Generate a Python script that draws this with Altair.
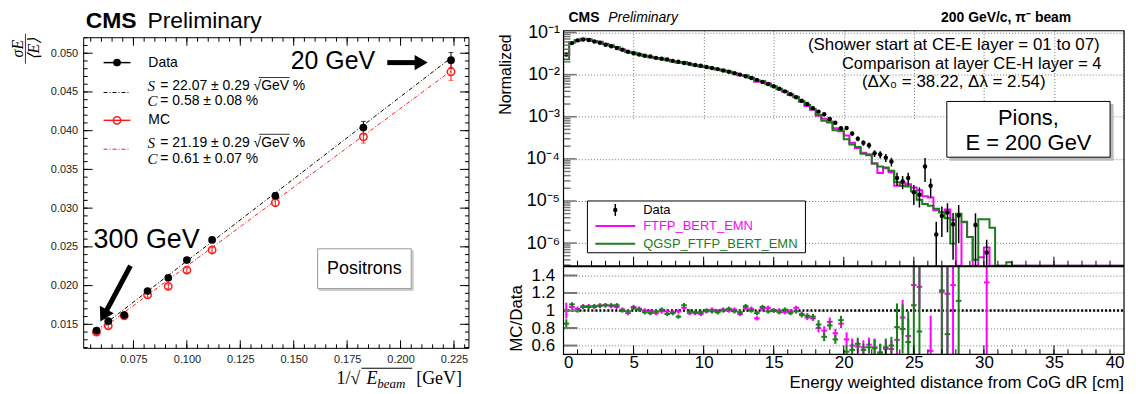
import altair as alt
import pandas as pd

nan = float("nan")
SANS = "Liberation Sans"
SERIF = "Liberation Serif"
MAGENTA = "#ff00ff"
GREEN = "#1b7d1b"
RED = "#ff1a1a"

# ---------------- Left panel: positron energy resolution ----------------
e_beam = [20, 30, 50, 80, 100, 120, 150, 200, 250, 300]
inv_sqrt_e = [0.2236, 0.1826, 0.1414, 0.1118, 0.1000, 0.0913, 0.0816, 0.0707, 0.0632, 0.0577]
res_data = [0.0491, 0.0404, 0.0316, 0.0259, 0.0233, 0.0210, 0.0193, 0.0162, 0.0154, 0.0142]
res_data_err = [0.0010, 0.0008, 0.0004, 0.0003, 0.0002, 0.0002, 0.0002, 0.0002, 0.0002, 0.0002]
res_mc = [0.0476, 0.0392, 0.0307, 0.0246, 0.0220, 0.0199, 0.0188, 0.0161, 0.0148, 0.0140]
res_mc_err = [0.0011, 0.0008, 0.0004, 0.0003, 0.0003, 0.0003, 0.0003, 0.0003, 0.0003, 0.0003]
fit_x = [0.0577, 0.2236]
fit_data = [0.0142, 0.0494]
fit_mc = [0.0139, 0.0477]

lx_major = [0.075, 0.100, 0.125, 0.150, 0.175, 0.200, 0.225]
lx_minor = [round(0.055 + 0.005 * i, 3) for i in range(36)]
ly_major = [0.015, 0.020, 0.025, 0.030, 0.035, 0.040, 0.045, 0.050]
ly_minor = [round(0.012 + 0.001 * i, 3) for i in range(41)]

# ---------------- Right panel: pion shower profile ----------------
bin_width = 0.4
data_vals = [0.030, 0.056, 0.065, 0.068, 0.066, 0.061, 0.057, 0.051, 0.047, 0.043,
             0.039, 0.035, 0.032, 0.030, 0.028, 0.027, 0.025, 0.0238, 0.0228, 0.0212,
             0.0202, 0.0188, 0.0180, 0.0170, 0.0162, 0.0152, 0.0143, 0.0135, 0.0125, 0.0117,
             0.0108, 0.0100, 0.0091, 0.0083, 0.0075, 0.0067, 0.0060, 0.0053, 0.0046, 0.0040,
             0.0034, 0.0029, 0.0024, 0.0020, 0.00160, 0.00132, 0.00115, 0.00088, 0.00072, 0.00053,
             0.00054, 0.00040, 0.00030, 0.00024, 0.00021, 0.000135, 0.000127, 0.000107, 0.000086, 3.5e-5,
             2.9e-5, 3.5e-5, 1.6e-5, 1.4e-5, 6.6e-5, 2.3e-5, 1.6e-6, 4.4e-6, 5.3e-6, 2.8e-6,
             4.5e-6, nan, nan, 2.7e-6, nan, 6e-7]
data_err = [0.0] * 44 + [1.0e-4, 9e-5, 8e-5, 7e-5, 6e-5, 5e-5, 5e-5, 4.5e-5, 4e-5, 3.5e-5,
                         3.5e-5, 2.5e-5, 2.5e-5, 2.3e-5, 2e-5, 1.2e-5, 1.0e-5, 1.2e-5, 8e-6, 7e-6,
                         3.8e-5, 1.1e-5, 1.6e-6, 3.0e-6, 3.5e-6, 2.4e-6, 3.5e-6, nan, nan, 2.4e-6,
                         nan, 6e-7]
qgsp_vals = [0.023, 0.058, 0.064, 0.069, 0.068, 0.063, 0.058, 0.053, 0.049, 0.045,
             0.039, 0.035, 0.033, 0.030, 0.0275, 0.026, 0.0248, 0.024, 0.022, 0.0205,
             0.0190, 0.0198, 0.0178, 0.0167, 0.0159, 0.0152, 0.0142, 0.0132, 0.0125, 0.0119,
             0.0107, 0.0098, 0.0095, 0.0083, 0.0073, 0.0070, 0.0059, 0.0053, 0.0045, 0.0040,
             0.0033, 0.0029, 0.0023, 0.0019, 0.0015, 0.0011, 0.00080, 0.00073, 0.00048, 0.00047,
             0.00029, 0.00022, 0.00019, 0.000132, 0.000122, 7.7e-5, 6.6e-5, 6.2e-5, 5.2e-5, 2.8e-5,
             2.3e-5, 2.2e-5, 1.7e-5, 1.07e-5, 8.5e-6, 7.7e-6, 6.5e-6, 5.4e-6, 3.9e-6, 9.7e-7,
             5.0e-6, 3.2e-6, 1.4e-6, 4e-7, 3.7e-6, 3.7e-6, 2.3e-6, 0, 0, 3.5e-7] + [0.0] * 20
ftfp_vals = [0.029, 0.058, 0.066, 0.071, 0.069, 0.063, 0.060, 0.054, 0.049, 0.045,
             0.0394, 0.034, 0.033, 0.0306, 0.028, 0.0267, 0.0243, 0.0236, 0.0226, 0.0208,
             0.0200, 0.0194, 0.0175, 0.0165, 0.0156, 0.0150, 0.0144, 0.0134, 0.0126, 0.0117,
             0.0109, 0.0096, 0.0094, 0.0085, 0.0068, 0.0068, 0.0062, 0.0053, 0.0046, 0.0039,
             0.0034, 0.0030, 0.0023, 0.0018, 0.00146, 0.00106, 0.00089, 0.00077, 0.00053, 0.00045,
             0.00036, 0.00024, 0.00018, 0.000139, 0.000128, 7.8e-5, 4.6e-5, 6.0e-5, 4.8e-5, 2.3e-5,
             2.7e-5, 2.5e-5, 2.1e-5, 1.8e-5, 1.3e-5, 1.2e-5, 6e-6, 5.3e-6, 6.3e-6, 3.6e-6,
             0, 3.1e-6, 1.4e-6, 0, 4.6e-7, 7.9e-7, 0, 0, 0, 0] + [0.0] * 20
ratio_qgsp = [0.85, 1.07, 1.00, 1.04, 1.04, 1.05, 1.05, 1.06, 1.06, 1.06,
              1.00, 0.99, 1.03, 1.01, 0.98, 0.97, 0.99, 1.01, 0.96, 0.97,
              0.93, 1.06, 0.99, 0.98, 0.98, 1.00, 0.99, 0.98, 1.00, 1.02,
              0.99, 0.98, 1.05, 1.00, 0.97, 1.04, 0.99, 1.00, 0.98, 1.01,
              0.97, 0.99, 0.95, 0.94, 0.93, 0.84, 0.70, 0.83, 0.67, 0.89,
              0.53, 0.55, 0.62, 0.55, 0.58, 0.57, 0.52, 0.58, 0.60, 0.81,
              0.79, 0.64, 1.06, 0.76, nan, nan, nan, 1.23, 0.73, nan,
              1.11, nan, nan, nan, nan, nan]
ratio_qgsp_err = [0.05] + [0.025] * 41 + [0.03, 0.03, 0.03, 0.05, 0.05, 0.05, 0.05, 0.05,
                                          0.07, 0.07, 0.07, 0.07, 0.07, 0.10, 0.10, 0.10, 0.10,
                                          0.27, 0.28, 0.35, 1.5, 1.5, nan, nan, nan, 1.5, 1.5, nan,
                                          1.5, nan, nan, nan, nan, nan]
ratio_ftfp = [1.00, 1.04, 1.02, 1.05, 1.05, 1.04, 1.06, 1.06, 1.05, 1.04,
              1.01, 0.97, 1.04, 1.02, 1.00, 0.99, 0.97, 0.99, 0.99, 0.98,
              0.99, 1.03, 0.97, 0.97, 0.96, 0.99, 1.01, 0.99, 1.01, 1.00,
              1.01, 0.96, 1.03, 1.02, 0.91, 1.02, 1.03, 1.00, 1.00, 0.98,
              0.99, 1.03, 0.96, 0.92, 0.91, 0.80, 0.77, 0.87, 0.74, 0.85,
              0.67, 0.60, 0.59, 0.58, 0.61, 0.58, 0.52, 0.56, 0.56, 0.665,
              0.92, 0.71, 1.29, 1.27, nan, 0.54, nan, 1.21, 1.19, 1.29,
              nan, nan, nan, nan, nan, 1.32]
ratio_ftfp_err = [0.09] + [0.025] * 41 + [0.03, 0.03, 0.03, 0.05, 0.05, 0.05, 0.05, 0.05,
                                          0.08, 0.08, 0.08, 0.08, 0.08, 0.10, 0.10, 0.10, 0.10,
                                          0.2, 0.2, 0.2, 0.3, 0.25, nan, 0.4, nan, 1.5, 1.5, 1.5,
                                          nan, nan, nan, nan, nan, 1.5]

log_major = [1e-6, 1e-5, 1e-4, 1e-3, 1e-2, 1e-1]
log_minor = [m * d for d in [1e-7, 1e-6, 1e-5, 1e-4, 1e-3, 1e-2] for m in range(2, 10)]
ratio_ticks = [0.6, 0.8, 1.0, 1.2, 1.4]
rx_labels = [0, 5, 10, 15, 20, 25, 30, 35, 40]
rx_major = [5, 10, 15, 20, 25, 30, 35]
rx_minor = list(range(1, 40))

# ---------------- layout constants (pixels) ----------------
LW, LH = 387, 325
L_TOP, L_BOT = 7, 319
RW, RH = 563, 325
U_BOT = 236
SPACING = 95
TINY = 1e-12

ONE = pd.DataFrame({"a": [0]})


def txt(t, x, y, size, color="black", font=SANS, weight="normal", style="normal",
        align="left", baseline="middle", angle=0):
    return alt.Chart(ONE).mark_text(text=t, fontSize=size, color=color, font=font,
                                    fontWeight=weight, fontStyle=style, align=align,
                                    baseline=baseline, angle=angle).encode(
        x=alt.value(x), y=alt.value(y))


def seg(x0, y0, x1, y1, color="black", width=1.0, dash=None):
    kw = dict(color=color, strokeWidth=width)
    if dash:
        kw["strokeDash"] = dash
    return alt.Chart(ONE).mark_rule(**kw).encode(
        x=alt.value(x0), y=alt.value(y0), x2=alt.value(x1), y2=alt.value(y1))


def box(x0, y0, x1, y1, stroke="black", fill="white", width=1.0, fill_opacity=1.0):
    return alt.Chart(ONE).mark_rect(fill=fill, fillOpacity=fill_opacity, stroke=stroke,
                                    strokeWidth=width).encode(
        x=alt.value(x0), x2=alt.value(x1), y=alt.value(y0), y2=alt.value(y1))


def sym(x, y, shape, size, color, filled=True, angle=0, sw=1.5):
    return alt.Chart(ONE).mark_point(shape=shape, size=size, color=color, filled=filled,
                                     opacity=1, angle=angle, strokeWidth=sw).encode(
        x=alt.value(x), y=alt.value(y))


def xticks(values, scale, y0, y1, color="black", width=1.0):
    return alt.Chart(pd.DataFrame({"v": values})).mark_rule(color=color, strokeWidth=width).encode(
        x=alt.X("v:Q", scale=scale, axis=None), y=alt.value(y0), y2=alt.value(y1))


def yticks(values, scale, x0, x1, color="black", width=1.0):
    return alt.Chart(pd.DataFrame({"v": values})).mark_rule(color=color, strokeWidth=width).encode(
        y=alt.Y("v:Q", scale=scale, axis=None), x=alt.value(x0), x2=alt.value(x1))


# ======================= LEFT CHART =======================
lx = alt.Scale(domain=[0.0517, 0.232], nice=False, zero=False)
ly = alt.Scale(domain=[0.0119, 0.0520], range=[L_BOT, L_TOP], nice=False, zero=False)

ldf = pd.DataFrame({"x": inv_sqrt_e, "E": e_beam, "data": res_data, "mc": res_mc})
ldf["dlo"] = [v - e for v, e in zip(res_data, res_data_err)]
ldf["dhi"] = [v + e for v, e in zip(res_data, res_data_err)]
ldf["mlo"] = [v - e for v, e in zip(res_mc, res_mc_err)]
ldf["mhi"] = [v + e for v, e in zip(res_mc, res_mc_err)]
fdf = pd.DataFrame({"x": fit_x, "fd": fit_data, "fm": fit_mc})

xnoax = alt.X("x:Q", scale=lx, axis=None)
anchor = alt.Chart(ONE).mark_point(size=1, opacity=0, filled=True).encode(
    x=alt.value(-75), y=alt.value(-21))

fit_d = alt.Chart(fdf).mark_line(color="black", strokeWidth=1, strokeDash=[4, 2, 1, 2]).encode(
    x=xnoax, y=alt.Y("fd:Q", scale=ly, axis=None))
fit_m = alt.Chart(fdf).mark_line(color=RED, strokeWidth=1, strokeDash=[4, 2, 1, 2]).encode(
    x=xnoax, y=alt.Y("fm:Q", scale=ly, axis=None))
err_d = alt.Chart(ldf).mark_rule(color="black", strokeWidth=1).encode(
    x=xnoax, y=alt.Y("dlo:Q", scale=ly, axis=None), y2="dhi:Q")
err_m = alt.Chart(ldf).mark_rule(color=RED, strokeWidth=1).encode(
    x=xnoax, y=alt.Y("mlo:Q", scale=ly, axis=None), y2="mhi:Q")
cap_d = [alt.Chart(ldf).mark_tick(color="black", size=5, thickness=1, orient="horizontal").encode(
    x=xnoax, y=alt.Y(f"{c}:Q", scale=ly, axis=None)) for c in ["dlo", "dhi"]]
cap_m = [alt.Chart(ldf).mark_tick(color=RED, size=5, thickness=1, orient="horizontal").encode(
    x=xnoax, y=alt.Y(f"{c}:Q", scale=ly, axis=None)) for c in ["mlo", "mhi"]]
pts_m = alt.Chart(ldf).mark_point(shape="circle", filled=False, color=RED, size=55,
                                  strokeWidth=1.5, opacity=1).encode(
    x=xnoax, y=alt.Y("mc:Q", scale=ly, axis=None))
pts_d = alt.Chart(ldf).mark_circle(color="black", size=60, opacity=1).encode(
    x=alt.X("x:Q", scale=lx, axis=alt.Axis(values=lx_major, format=".3f", ticks=False, domain=False,
                                           grid=False, labelFontSize=11, labelPadding=5,
                                           orient="bottom", offset=L_BOT - LH, title=None,
                                           labelFont=SANS, labelColor="#222")),
    y=alt.Y("data:Q", scale=ly, axis=alt.Axis(values=ly_major, format=".3f", ticks=False, domain=False,
                                              grid=False, labelFontSize=11, labelPadding=6,
                                              orient="left", title=None, labelFont=SANS,
                                              labelColor="#222")))

left_ticks = [
    xticks(lx_major, lx, L_BOT, L_BOT - 8), xticks(lx_minor, lx, L_BOT, L_BOT - 4),
    xticks(lx_major, lx, L_TOP, L_TOP + 8), xticks(lx_minor, lx, L_TOP, L_TOP + 4),
    yticks(ly_major, ly, 0, 9), yticks(ly_minor, ly, 0, 4),
    yticks(ly_major, ly, LW, LW - 9), yticks(ly_minor, ly, LW, LW - 4),
]
left_frame = box(0, L_TOP, LW, L_BOT, stroke="black", fill="white", width=1, fill_opacity=0)

left_legend = [
    seg(20, 32, 47, 32, "black", 1.5), sym(33.5, 32, "circle", 60, "black"),
    txt("Data", 65, 32, 14),
    seg(20, 62, 47, 62, "black", 1, [4, 2, 1, 2]),
    txt("S", 64, 56, 15, font=SERIF, style="italic"),
    txt("= 22.07 \u00b1 0.29 \u221aGeV %", 77, 56, 14),
    seg(176, 47, 207, 47, "black", 0.8),
    txt("C", 64, 71, 15, font=SERIF, style="italic"),
    txt("= 0.58 \u00b1 0.08 %", 77, 71, 14),
    seg(20, 90, 47, 90, RED, 1.5), sym(33.5, 90, "circle", 55, RED, filled=False),
    txt("MC", 65, 90, 14),
    seg(20, 119, 47, 119, RED, 1, [4, 2, 1, 2]),
    txt("S", 64, 113, 15, font=SERIF, style="italic"),
    txt("= 21.19 \u00b1 0.29 \u221aGeV %", 77, 113, 14),
    seg(176, 104, 207, 104, "black", 0.8),
    txt("C", 64, 129, 15, font=SERIF, style="italic"),
    txt("= 0.61 \u00b1 0.07 %", 77, 129, 14),
]
left_annot = [
    txt("CMS", 2, -3, 23, weight="bold", baseline="alphabetic"),
    txt("Preliminary", 64, -3, 23, baseline="alphabetic"),
    txt("20 GeV", 208, 38, 25, baseline="alphabetic"),
    seg(305, 32, 334, 32, "black", 5), sym(339, 32, "triangle-right", 230, "black"),
    txt("300 GeV", 10, 218, 27, baseline="alphabetic"),
    seg(47, 236, 23, 281, "black", 5), sym(20, 286, "triangle-up", 250, "black", angle=208),
    box(237, 221, 331, 261, stroke="#cccccc", fill="#cccccc", width=1),
    box(235, 219, 329, 259, stroke="#999999", fill="white", width=1),
    txt("Positrons", 282, 239, 18, align="center"),
    # y title (rotated fraction sigma_E / <E>)
    txt("\u03c3E", -66, 18, 16, font=SERIF, style="italic", align="center", angle=270),
    seg(-58.5, 3, -58.5, 33, "black", 0.8),
    txt("\u27e8E\u27e9", -50, 18, 16, font=SERIF, style="italic", align="center", angle=270),
    # x title 1/sqrt(E_beam) [GeV]
    txt("1/\u221a", 254, 355, 18, font=SERIF, baseline="alphabetic"),
    seg(279, 339, 330, 339, "black", 1),
    txt("E", 284, 355, 18, font=SERIF, style="italic", baseline="alphabetic"),
    txt("beam", 295, 359, 13, font=SERIF, style="italic", baseline="alphabetic"),
    txt("[GeV]", 334, 355, 18, font=SERIF, baseline="alphabetic"),
]

left = alt.layer(anchor, fit_d, fit_m, err_d, err_m, *cap_d, *cap_m, pts_m, pts_d,
                 *left_ticks, left_frame, *left_legend, *left_annot).properties(
    width=LW, height=LH).resolve_axis(x="independent", y="independent")

# ======================= RIGHT CHART =======================
xr = alt.Scale(domain=[0, 40], nice=False, zero=False)
yu = alt.Scale(type="log", domain=[2.9e-7, 0.11], range=[U_BOT, 0], clamp=True, nice=False)
yl = alt.Scale(domain=[0.5, 1.5], range=[RH, U_BOT + 1], clamp=True, nice=False, zero=False)

n_mc = len(qgsp_vals)
edges = [bin_width * k for k in range(n_mc)] + [bin_width * n_mc]
hist = pd.DataFrame({
    "e": edges,
    "ftfp": [v if v > 0 else TINY for v in ftfp_vals] + [ftfp_vals[-1] if ftfp_vals[-1] > 0 else TINY],
    "qgsp": [v if v > 0 else TINY for v in qgsp_vals] + [qgsp_vals[-1] if qgsp_vals[-1] > 0 else TINY],
})

n_pts = len(data_vals)
centres = [bin_width * (k + 0.5) for k in range(n_pts)]
pts = pd.DataFrame({
    "c": centres,
    "x0": [c - bin_width / 2 for c in centres],
    "x1": [c + bin_width / 2 for c in centres],
    "data": data_vals,
    "dlo": [max(v - e, TINY) for v, e in zip(data_vals, data_err)],
    "dhi": [v + e for v, e in zip(data_vals, data_err)],
    "rg": ratio_qgsp,
    "glo": [r - e for r, e in zip(ratio_qgsp, ratio_qgsp_err)],
    "ghi": [r + e for r, e in zip(ratio_qgsp, ratio_qgsp_err)],
    "rm": ratio_ftfp,
    "mlo": [r - e for r, e in zip(ratio_ftfp, ratio_ftfp_err)],
    "mhi": [r + e for r, e in zip(ratio_ftfp, ratio_ftfp_err)],
})

xrn = alt.X("c:Q", scale=xr, axis=None)
grid_kw = dict(ticks=False, domain=False, grid=True, gridDash=[1, 2], gridColor="#777777",
               gridWidth=1, title=None, labelFont=SANS, labelColor="black")

unity = alt.Chart(pd.DataFrame({"r": [1.0]})).mark_rule(color="black", strokeWidth=2.5,
                                                         strokeDash=[2, 2]).encode(
    y=alt.Y("r:Q", scale=yl, axis=None), x=alt.value(0), x2=alt.value(RW))

step_m = alt.Chart(hist).mark_line(interpolate="step-after", color=MAGENTA, strokeWidth=2).encode(
    x=alt.X("e:Q", scale=xr, axis=None), y=alt.Y("ftfp:Q", scale=yu, axis=None))
step_g = alt.Chart(hist).mark_line(interpolate="step-after", color=GREEN, strokeWidth=2).encode(
    x=alt.X("e:Q", scale=xr, axis=None), y=alt.Y("qgsp:Q", scale=yu, axis=None))
derr = alt.Chart(pts).mark_rule(color="black", strokeWidth=1.5).encode(
    x=xrn, y=alt.Y("dlo:Q", scale=yu, axis=None), y2="dhi:Q")
dpts = alt.Chart(pts).mark_circle(color="black", size=20, opacity=1).encode(
    x=xrn,
    y=alt.Y("data:Q", scale=yu, axis=alt.Axis(
        values=log_major, orient="left", labelFontSize=18, labelPadding=4,
        labelExpr=("datum.value > 0.05 ? '10\u207b\u00b9' : datum.value > 0.005 ? '10\u207b\u00b2' : "
                   "datum.value > 0.0005 ? '10\u207b\u00b3' : datum.value > 0.00005 ? '10\u207b\u2074' : "
                   "datum.value > 0.000005 ? '10\u207b\u2075' : '10\u207b\u2076'"),
        **grid_kw)))

m_v = alt.Chart(pts).mark_rule(color=MAGENTA, strokeWidth=2).encode(
    x=xrn, y=alt.Y("mlo:Q", scale=yl, axis=None), y2="mhi:Q")
m_h = alt.Chart(pts).mark_rule(color=MAGENTA, strokeWidth=2).encode(
    x=alt.X("x0:Q", scale=xr, axis=None), x2="x1:Q", y=alt.Y("rm:Q", scale=yl, axis=None))
g_v = alt.Chart(pts).mark_rule(color=GREEN, strokeWidth=2).encode(
    x=xrn, y=alt.Y("glo:Q", scale=yl, axis=None), y2="ghi:Q")
g_h = alt.Chart(pts).mark_rule(color=GREEN, strokeWidth=2).encode(
    x=alt.X("x0:Q", scale=xr, axis=alt.Axis(values=rx_labels, format="d", orient="bottom",
                                            labelFontSize=17, labelPadding=0, labelFlush=True,
                                            **grid_kw)),
    x2="x1:Q",
    y=alt.Y("rg:Q", scale=yl, axis=alt.Axis(
        values=ratio_ticks, orient="left", labelFontSize=17, labelPadding=9,
        labelExpr="datum.value == 1 ? '1' : format(datum.value, '.1f')", **grid_kw)))

right_ticks = [
    yticks(log_major, yu, 0, 13, "#777777", 1.5), yticks(log_minor, yu, 0, 7, "#777777", 1.5),
    yticks(ratio_ticks, yl, 0, 14, "#777777", 2),
    xticks(rx_major, xr, U_BOT, U_BOT - 9), xticks(rx_minor, xr, U_BOT, U_BOT - 5),
    xticks(rx_major, xr, RH, RH - 9), xticks(rx_minor, xr, RH, RH - 5),
]
right_frame = [
    seg(0, U_BOT + 0.5, RW, U_BOT + 0.5, "black", 2),
    box(0, 0, RW, RH, stroke="black", fill="white", width=1.2, fill_opacity=0),
]
right_legend = [
    box(24, 171, 243, 223, stroke="black", fill="white", width=1),
    seg(52, 174, 52, 186, "black", 1.5), sym(52, 180, "circle", 20, "black"),
    txt("Data", 80, 180, 13),
    seg(32, 196, 72, 196, MAGENTA, 2), txt("FTFP_BERT_EMN", 80, 196, 13, color=MAGENTA),
    seg(32, 214, 72, 214, GREEN, 2), txt("QGSP_FTFP_BERT_EMN", 80, 214, 13, color=GREEN),
]
right_annot = [
    txt("CMS", 5, -13, 14, weight="bold"),
    txt("Preliminary", 45, -13, 14, style="italic"),
    txt("200 GeV/c, \u03c0\u207b beam", 510, -13, 14, weight="bold", align="right"),
    txt("(Shower start at CE-E layer = 01 to 07)", 392, 14, 17, align="center"),
    txt("Comparison at layer CE-H layer = 4", 410, 33, 16.5, align="center"),
    txt("(\u0394X\u2080 = 38.22,  \u0394\u03bb = 2.54)", 392, 51, 17, align="center"),
    box(388, 74, 552, 130, stroke="#bbbbbb", fill="#bbbbbb", width=1),
    box(385, 71, 549, 127, stroke="black", fill="white", width=1),
    txt("Pions,", 467, 88, 22, align="center"),
    txt("E = 200 GeV", 467, 113, 22, align="center"),
    txt("Normalized", -58, 44, 16, align="center", angle=270),
    txt("MC/Data", -47, 289, 17, align="center", angle=270),
    txt("Energy weighted distance from CoG dR [cm]", RW, 359, 17, align="right",
        baseline="alphabetic"),
]

right = alt.layer(unity, step_m, step_g, derr, dpts, m_v, m_h, g_v, g_h,
                  *right_ticks, *right_frame, *right_legend, *right_annot).properties(
    width=RW, height=RH).resolve_scale(y="independent").resolve_axis(x="independent", y="independent")

chart = alt.hconcat(left, right, spacing=SPACING, bounds="flush").properties(
    padding=0, background="white").configure_view(strokeWidth=0)

chart.save("out.html", embed_options={"renderer": "svg", "actions": False})
